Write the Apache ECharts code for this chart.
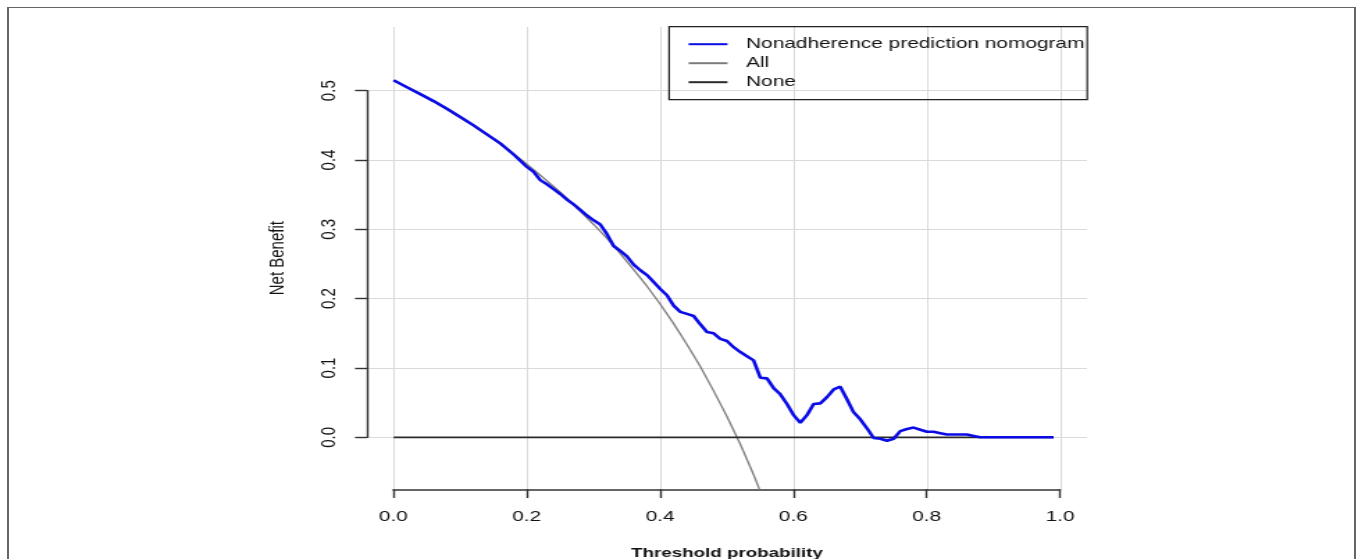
<!DOCTYPE html>
<html>
<head>
<meta charset="utf-8">
<title>Decision curve</title>
<script src="https://cdn.jsdelivr.net/npm/echarts@6/dist/echarts.min.js"></script>
<style>
  html, body { margin: 0; padding: 0; background: #fff; overflow: hidden; }
  #frame {
    position: absolute; left: 7px; top: 7px; width: 1345px; height: 600px;
    border-top: 1.5px solid #666; border-left: 2px solid #666; border-right: 2px solid #666;
  }
  /* the source figure is a horizontally stretched R plot */
  #chart {
    position: absolute; left: 0; top: 0; width: 977px; height: 559px;
    transform: scaleX(1.38997); transform-origin: 0 0;
  }
</style>
</head>
<body>
<div id="frame"></div>
<div id="chart"></div>
<script>
// threshold probabilities and net benefit of the nomogram
const thresholds = [
  0.00, 0.02, 0.04, 0.06, 0.08, 0.10, 0.12, 0.14, 0.16, 0.18,
  0.20, 0.21, 0.22, 0.23, 0.24, 0.25, 0.26, 0.27, 0.28, 0.29,
  0.30, 0.31, 0.32, 0.33, 0.34, 0.35, 0.36, 0.37, 0.38, 0.39,
  0.40, 0.41, 0.42, 0.43, 0.44, 0.45, 0.46, 0.47, 0.48, 0.49,
  0.50, 0.51, 0.52, 0.53, 0.54, 0.55, 0.56, 0.57, 0.58, 0.59,
  0.60, 0.61, 0.62, 0.63, 0.64, 0.65, 0.66, 0.67, 0.68, 0.69,
  0.70, 0.71, 0.72, 0.73, 0.74, 0.75, 0.76, 0.77, 0.78, 0.79,
  0.80, 0.81, 0.82, 0.83, 0.84, 0.85, 0.86, 0.87, 0.88, 0.90,
  0.92, 0.94, 0.96, 0.98, 0.99
]
const modelNB = [
  0.515, 0.505, 0.495, 0.485, 0.474, 0.462, 0.450, 0.437, 0.424, 0.408,
  0.390, 0.383, 0.371, 0.365, 0.358, 0.351, 0.343, 0.336, 0.328, 0.320,
  0.313, 0.307, 0.293, 0.276, 0.269, 0.261, 0.249, 0.241, 0.234, 0.224,
  0.214, 0.205, 0.190, 0.181, 0.178, 0.175, 0.163, 0.152, 0.150, 0.142,
  0.139, 0.130, 0.123, 0.117, 0.111, 0.086, 0.085, 0.071, 0.062, 0.048,
  0.032, 0.021, 0.032, 0.048, 0.049, 0.058, 0.069, 0.073, 0.055, 0.036,
  0.026, 0.013, -0.001, -0.002, -0.005, -0.002, 0.009, 0.012, 0.014, 0.011,
  0.008, 0.008, 0.006, 0.004, 0.004, 0.004, 0.004, 0.002, 0.000, 0.000,
  0.000, 0.000, 0.000, 0.000, 0.000
]

// treat-all curve
const allThresholds = [
  0.00, 0.02, 0.04, 0.06, 0.08, 0.10, 0.12, 0.14, 0.16, 0.18,
  0.20, 0.22, 0.24, 0.26, 0.28, 0.30, 0.32, 0.34, 0.36, 0.38,
  0.40, 0.42, 0.44, 0.46, 0.48, 0.50, 0.52, 0.54, 0.56
]
const allNB = [
  0.515, 0.505, 0.495, 0.484, 0.473, 0.461, 0.449, 0.436, 0.423, 0.409,
  0.394, 0.378, 0.362, 0.345, 0.326, 0.307, 0.287, 0.265, 0.242, 0.218,
  0.192, 0.164, 0.134, 0.102, 0.067, 0.030, -0.010, -0.054, -0.102
]

// treat-none curve
const noneThresholds = [0.00, 0.99]
const noneNB = [0, 0]

const xTicks = [0, 0.2, 0.4, 0.6, 0.8, 1.0]
const yTicks = [0, 0.1, 0.2, 0.3, 0.4, 0.5]

const FONT = 'Liberation Sans, Arial, sans-serif'
const axisColor = '#333'
const gridColor = '#dadada'

const chart = echarts.init(document.getElementById('chart'))

const pairs = (xs, ys) => xs.map((x, i) => [x, ys[i]])

chart.setOption({
  animation: false,
  grid: [
    { left: 264, right: 195, top: 27, bottom: 69.7, outerBoundsMode: 'none' },   // plot box
    { left: 283, right: 214.4, top: 27, bottom: 69.7, outerBoundsMode: 'none' }, // x axis 0..1
    { left: 264, right: 195, top: 90.7, bottom: 121.7, outerBoundsMode: 'none' } // y axis 0..0.5
  ],
  xAxis: [
    {
      gridIndex: 0, type: 'value', min: -0.04, max: 1.04,
      axisLine: { show: false, onZero: false },
      axisTick: { show: false, customValues: xTicks },
      axisLabel: { show: false },
      splitLine: { show: true, lineStyle: { color: gridColor, width: 1 } },
      name: 'Threshold probability', nameLocation: 'middle', nameGap: 57,
      nameTextStyle: { fontFamily: FONT, fontWeight: 'bold', fontSize: 13.5, color: '#111' }
    },
    {
      gridIndex: 1, type: 'value', min: 0, max: 1, interval: 0.2,
      axisLine: { show: true, onZero: false, lineStyle: { color: axisColor, width: 1.6 } },
      axisTick: { show: true, inside: false, length: 8.7, lineStyle: { color: axisColor, width: 1.4 } },
      axisLabel: {
        margin: 20, fontFamily: FONT, fontSize: 15, color: '#111',
        formatter: v => v.toFixed(1)
      },
      splitLine: { show: false }
    },
    { gridIndex: 2, type: 'value', min: 0, max: 1, show: false }
  ],
  yAxis: [
    {
      gridIndex: 0, type: 'value', min: -0.075, max: 0.5919,
      axisLine: { show: false, onZero: false },
      axisTick: { show: false, customValues: yTicks },
      axisLabel: { show: false },
      splitLine: { show: true, lineStyle: { color: gridColor, width: 1 } },
      name: 'Net Benefit', nameLocation: 'middle', nameGap: 57, nameRotate: 90,
      nameTextStyle: { fontFamily: FONT, fontSize: 15, color: '#111' }
    },
    { gridIndex: 1, type: 'value', min: -0.075, max: 0.5919, show: false },
    {
      gridIndex: 2, type: 'value', min: 0, max: 0.5, interval: 0.1,
      axisLine: { show: true, onZero: false, lineStyle: { color: axisColor, width: 1.4 } },
      axisTick: { show: true, inside: false, length: 8.6, lineStyle: { color: axisColor, width: 1.4 } },
      axisLabel: {
        margin: 20, rotate: 90, fontFamily: FONT, fontSize: 15, color: '#111',
        formatter: v => v.toFixed(1)
      },
      splitLine: { show: false }
    }
  ],
  legend: {
    data: ['Nonadherence prediction nomogram', 'All', 'None'],
    orient: 'vertical',
    right: 194.8, top: 26.7,
    itemWidth: 28, itemHeight: 10, itemGap: 0,
    padding: [8, 2, 8, 13],
    borderColor: '#222', borderWidth: 1.2,
    itemStyle: { opacity: 0 },
    formatter: n => '  ' + n,
    textStyle: { fontFamily: FONT, fontSize: 15, color: '#111', lineHeight: 19 }
  },
  series: [
    {
      name: 'All', type: 'line', xAxisIndex: 0, yAxisIndex: 0,
      data: pairs(allThresholds, allNB), symbol: 'none', clip: true,
      lineStyle: { color: '#7c7c7c', width: 1.3 }, itemStyle: { color: '#7c7c7c' }, z: 3
    },
    {
      name: 'None', type: 'line', xAxisIndex: 0, yAxisIndex: 0,
      data: pairs(noneThresholds, noneNB), symbol: 'none', clip: true,
      lineStyle: { color: '#2a2a2a', width: 1.7 }, itemStyle: { color: '#2a2a2a' }, z: 4
    },
    {
      name: 'Nonadherence prediction nomogram', type: 'line', xAxisIndex: 0, yAxisIndex: 0,
      data: pairs(thresholds, modelNB), symbol: 'none', clip: true,
      lineStyle: { color: '#0b0be6', width: 2.6 }, itemStyle: { color: '#0b0be6' }, z: 5
    }
  ]
})
</script>
</body>
</html>
